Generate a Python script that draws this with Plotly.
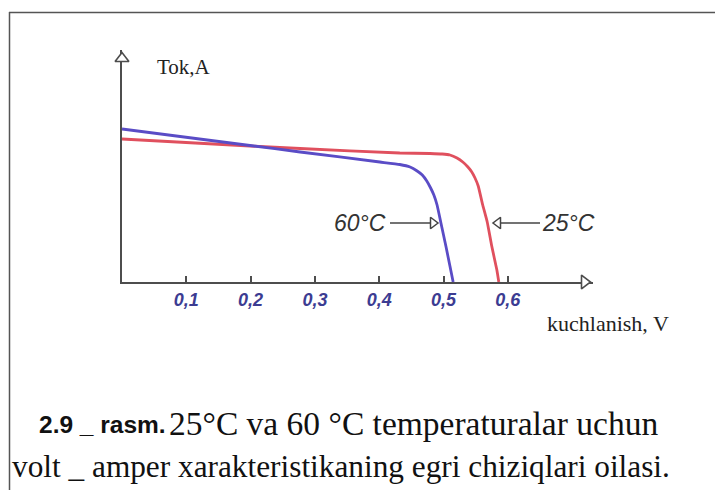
import plotly.graph_objects as go

# ---------------- data ----------------
v_25 = [0.0, 0.199, 0.277, 0.432, 0.479, 0.498, 0.510, 0.521, 0.530, 0.538, 0.544, 0.549, 0.554,
        0.561, 0.568, 0.575, 0.583, 0.586]
i_25 = [1.43, 1.36, 1.335, 1.29, 1.285, 1.28, 1.27, 1.24, 1.20, 1.15, 1.10, 1.04, 0.96,
        0.77, 0.60, 0.36, 0.12, 0.0]

v_60 = [0.0, 0.199, 0.277, 0.401, 0.432, 0.448, 0.459, 0.467, 0.474, 0.480, 0.485, 0.490, 0.496,
        0.504, 0.510, 0.515]
i_60 = [1.53, 1.365, 1.30, 1.20, 1.175, 1.15, 1.11, 1.07, 1.01, 0.94, 0.87, 0.77, 0.59,
        0.35, 0.16, 0.0]

tick_vals = [0.1, 0.2, 0.3, 0.4, 0.5, 0.6]
tick_text = ["0,1", "0,2", "0,3", "0,4", "0,5", "0,6"]

label_25 = "25°C"
label_60 = "60°C"
y_label = "Tok,A"
x_label = "kuchlanish, V"
caption_bold = "2.9 _ rasm."
caption_1 = "25°C va 60 °C temperaturalar uchun"
caption_2 = "volt _ amper xarakteristikaning egri chiziqlari oilasi."

# ---------------- layout geometry ----------------
W, H = 715, 490
L, R, T, B = 122, 122, 50, 208
PW, PH = W - L - R, H - T - B
X_PER_PX = 1 / 643.0
Y_PER_PX = 1 / 100.0
X_MAX = PW * X_PER_PX
Y_MAX = PH * Y_PER_PX


def px_to_paper_x(px):
    return (px - L) / PW


def px_to_paper_y(py):
    return (H - B - py) / PH


def px_to_data_x(px):
    return (px - L) * X_PER_PX


def px_to_data_y(py):
    return (H - B - py) * Y_PER_PX


AXIS_COL = "#4d4d4d"
PTR_COL = "#444444"
RED = "#e0505e"
BLUE = "#5a4cc6"

fig = go.Figure()

fig.add_trace(go.Scatter(x=v_25, y=i_25, mode="lines",
                         line=dict(color=RED, width=2.8, shape="spline", smoothing=0.4),
                         hoverinfo="skip"))
fig.add_trace(go.Scatter(x=v_60, y=i_60, mode="lines",
                         line=dict(color=BLUE, width=2.8, shape="spline", smoothing=0.4),
                         hoverinfo="skip"))

# axis arrow heads (white-filled triangles with grey outline, covering the axis line end)
fig.add_trace(go.Scatter(x=[X_MAX - 8.5 * X_PER_PX], y=[0], mode="markers", cliponaxis=False,
                         marker=dict(symbol="triangle-right", size=12, color="white",
                                     line=dict(width=1.6, color=AXIS_COL)),
                         hoverinfo="skip"))
fig.add_trace(go.Scatter(x=[0], y=[Y_MAX - 8.5 * Y_PER_PX], mode="markers", cliponaxis=False,
                         marker=dict(symbol="triangle-up", size=12, color="white",
                                     line=dict(width=1.6, color=AXIS_COL)),
                         hoverinfo="skip"))

# pointer arrows for the temperature labels
ARROW_Y = px_to_data_y(223)
fig.add_trace(go.Scatter(x=[px_to_data_x(390), px_to_data_x(430)], y=[ARROW_Y, ARROW_Y], mode="lines",
                         line=dict(color=PTR_COL, width=1.5), hoverinfo="skip"))
fig.add_trace(go.Scatter(x=[px_to_data_x(433)], y=[ARROW_Y], mode="markers",
                         marker=dict(symbol="triangle-right", size=10, color="white",
                                     line=dict(width=1.5, color=PTR_COL)),
                         hoverinfo="skip"))
fig.add_trace(go.Scatter(x=[px_to_data_x(501), px_to_data_x(540)], y=[ARROW_Y, ARROW_Y], mode="lines",
                         line=dict(color=PTR_COL, width=1.5), hoverinfo="skip"))
fig.add_trace(go.Scatter(x=[px_to_data_x(498)], y=[ARROW_Y], mode="markers",
                         marker=dict(symbol="triangle-left", size=10, color="white",
                                     line=dict(width=1.5, color=PTR_COL)),
                         hoverinfo="skip"))

annotations = [
    dict(text=y_label, x=px_to_paper_x(184), y=px_to_paper_y(67), xref="paper", yref="paper",
         showarrow=False, xanchor="center", yanchor="middle",
         font=dict(family="Liberation Serif", size=21, color="#222222")),
    dict(text=x_label, x=px_to_paper_x(608), y=px_to_paper_y(323), xref="paper", yref="paper",
         showarrow=False, xanchor="center", yanchor="middle",
         font=dict(family="Liberation Serif", size=22, color="#222222")),
    dict(text=label_60, x=px_to_paper_x(360), y=px_to_paper_y(223), xref="paper", yref="paper",
         showarrow=False, xanchor="center", yanchor="middle",
         font=dict(family="Liberation Sans", size=23, color="#333333", style="italic")),
    dict(text=label_25, x=px_to_paper_x(568), y=px_to_paper_y(223), xref="paper", yref="paper",
         showarrow=False, xanchor="center", yanchor="middle",
         font=dict(family="Liberation Sans", size=23, color="#333333", style="italic")),
    dict(text="<b>" + caption_bold + "</b>", x=px_to_paper_x(37), y=px_to_paper_y(424), xref="paper",
         yref="paper", showarrow=False, xanchor="left", yanchor="middle",
         font=dict(family="Liberation Sans", size=24.5, color="#111111")),
    dict(text=caption_1, x=px_to_paper_x(167), y=px_to_paper_y(423), xref="paper", yref="paper",
         showarrow=False, xanchor="left", yanchor="middle",
         font=dict(family="Liberation Serif", size=33.5, color="#111111")),
    dict(text=caption_2, x=px_to_paper_x(10), y=px_to_paper_y(466), xref="paper", yref="paper",
         showarrow=False, xanchor="left", yanchor="middle",
         font=dict(family="Liberation Serif", size=31.3, color="#111111")),
]

shapes = [
    dict(type="line", xref="paper", yref="paper", x0=px_to_paper_x(9), x1=px_to_paper_x(716),
         y0=px_to_paper_y(12.5), y1=px_to_paper_y(12.5), line=dict(color="#555555", width=1.5)),
    dict(type="line", xref="paper", yref="paper", x0=px_to_paper_x(9.5), x1=px_to_paper_x(9.5),
         y0=px_to_paper_y(12), y1=px_to_paper_y(491), line=dict(color="#555555", width=1.5)),
]

fig.update_layout(
    width=W, height=H,
    margin=dict(l=L, r=R, t=T, b=B),
    paper_bgcolor="white", plot_bgcolor="white",
    showlegend=False, hovermode=False,
    annotations=annotations, shapes=shapes,
    xaxis=dict(range=[0, X_MAX], showline=True, linecolor=AXIS_COL, linewidth=2, layer="below traces",
               ticks="inside", ticklen=6, tickwidth=1.6, tickcolor=AXIS_COL,
               tickvals=tick_vals, ticktext=tick_text, showgrid=False, zeroline=False,
               tickfont=dict(family="Liberation Sans", size=18, color="#3c3c92", style="italic", weight="bold"),
               fixedrange=True),
    yaxis=dict(range=[0, Y_MAX], showline=True, linecolor=AXIS_COL, linewidth=2, layer="below traces",
               showticklabels=False, ticks="", showgrid=False, zeroline=False, fixedrange=True),
)

fig.write_html("out.html", config={"displayModeBar": False},
               post_script="document.body.style.margin='0';document.body.style.overflow='hidden';")
